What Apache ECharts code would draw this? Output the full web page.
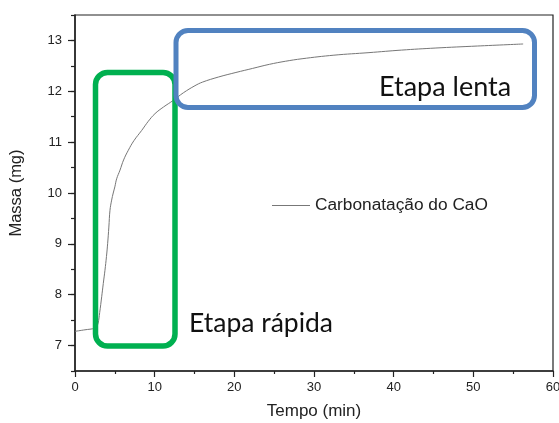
<!DOCTYPE html>
<html>
<head>
<meta charset="utf-8">
<script src="https://cdn.jsdelivr.net/npm/echarts@6/dist/echarts.min.js"></script>
<style>html,body{margin:0;padding:0;background:#fff}#c{width:559px;height:423px}</style>
</head>
<body>
<div id="c"></div>
<script>
// Data
const tempo = [0, 1.25, 2.5, 2.7, 2.9, 3.1, 3.35, 3.55, 3.76, 3.95, 4.1, 4.25, 4.39, 4.6, 4.8, 5.0, 5.23, 5.65, 6.1, 6.69, 7.4, 8.37, 9.2, 10.04, 11.1, 12.33, 13.6, 15.06, 16, 18, 20.2, 22.3, 24.4, 26.4, 28.5, 32.5, 36.9, 41, 45.2, 50.5, 56.25];
const massa = [7.28, 7.31, 7.34, 7.37, 7.44, 7.65, 7.96, 8.22, 8.48, 8.75, 9.01, 9.33, 9.66, 9.86, 10.0, 10.12, 10.28, 10.45, 10.65, 10.84, 11.03, 11.23, 11.41, 11.56, 11.69, 11.82, 11.97, 12.11, 12.18, 12.28, 12.37, 12.45, 12.53, 12.59, 12.64, 12.71, 12.76, 12.81, 12.85, 12.89, 12.93];
const seriesName = 'Carbonatação do CaO';
const xTitle = 'Tempo (min)';
const yTitle = 'Massa (mg)';
const labelLenta = 'Etapa lenta';
const labelRapida = 'Etapa rápida';

const points = tempo.map((t, i) => [t, massa[i]]);
const chart = echarts.init(document.getElementById('c'));
const font = '"Liberation Sans", Arial, sans-serif';
chart.setOption({
  animation: false,
  backgroundColor: '#fff',
  grid: { left: 75, right: 6, top: 15, bottom: 52, outerBoundsMode: 'none', containLabel: false,
    show: true, borderColor: '#222', borderWidth: 1.2 },
  legend: {
    left: 267, top: 192, itemWidth: 38, itemHeight: 1.2, itemGap: 4, icon: 'rect',
    textStyle: { fontFamily: font, fontSize: 17.3, color: '#222', padding: [0, 0, 0, 0] },
    itemStyle: { color: '#777' },
    data: [seriesName]
  },
  xAxis: {
    type: 'value', min: 0, max: 60, interval: 10,
    name: xTitle, nameLocation: 'middle', nameGap: 32,
    nameTextStyle: { fontFamily: font, fontSize: 17, color: '#222' },
    axisLine: { show: true, lineStyle: { color: '#222', width: 1.5 } },
    axisTick: { show: true, inside: false, length: 6, lineStyle: { color: '#222', width: 1.2 } },
    minorTick: { show: true, splitNumber: 2, length: 3, lineStyle: { color: '#222', width: 1.2 } },
    axisLabel: { fontFamily: font, fontSize: 13, color: '#222', margin: 10 },
    splitLine: { show: false }
  },
  yAxis: [{
    type: 'value', min: 6.5, max: 13.5, interval: 0.5, position: 'left',
    name: yTitle, nameLocation: 'middle', nameGap: 50,
    nameTextStyle: { fontFamily: font, fontSize: 16.5, color: '#222' },
    axisLine: { show: true, lineStyle: { color: '#222', width: 1.5 } },
    axisTick: { show: true, inside: false, length: 4, lineStyle: { color: '#222', width: 1.2 } },
    axisLabel: { fontFamily: font, fontSize: 13, color: '#222', margin: 13,
      formatter: v => (Math.abs(v - Math.round(v)) < 1e-6 ? String(Math.round(v)) : '') },
    splitLine: { show: false }
  }, {
    type: 'value', min: 6.5, max: 13.5, interval: 1, position: 'left', offset: 0,
    axisLine: { show: false }, axisTick: { show: false }, axisLabel: { show: false },
    minorTick: { show: true, splitNumber: 2, length: 7, lineStyle: { color: '#222', width: 1.2 } },
    splitLine: { show: false }
  }],
  series: [{
    name: seriesName, type: 'line', data: points, yAxisIndex: 0,
    showSymbol: false, symbol: 'none', smooth: 0.4,
    lineStyle: { color: '#777', width: 1 }, itemStyle: { color: '#777' }
  }],
  graphic: [
    { type: 'rect', shape: { x: 95.5, y: 72.5, width: 79.5, height: 273.5, r: 12 },
      style: { fill: 'none', stroke: '#00B050', lineWidth: 5.5 }, z: 100 },
    { type: 'rect', shape: { x: 176, y: 30.5, width: 358.5, height: 77, r: 12 },
      style: { fill: 'none', stroke: '#5182C0', lineWidth: 5 }, z: 101 },
    { type: 'text', left: 379, top: 74, z: 102,
      style: { text: labelLenta, font: '27px Lato, "Noto Sans", sans-serif', fill: '#111' } },
    { type: 'text', left: 189, top: 310, z: 102,
      style: { text: labelRapida, font: '26.5px Lato, "Noto Sans", sans-serif', fill: '#111' } }
  ]
});
</script>
</body>
</html>
